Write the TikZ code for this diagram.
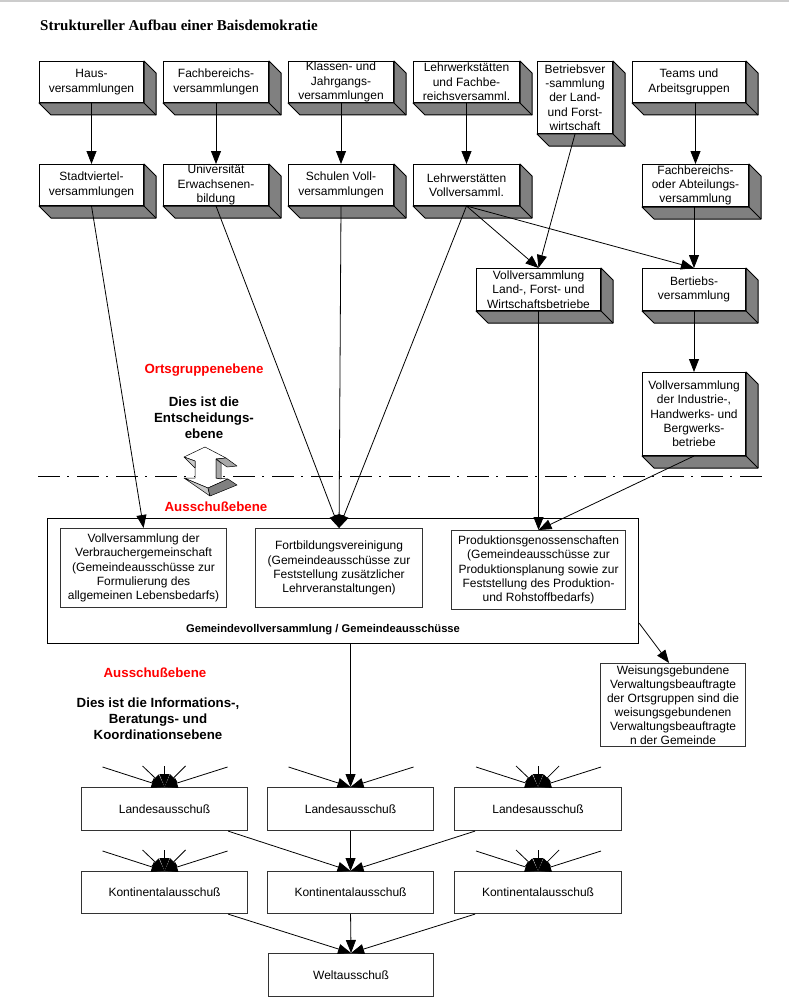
\documentclass[tikz,border=0pt]{standalone}
\usepackage{fontspec}
\setmainfont{Liberation Sans}
\newfontfamily\titlefont{Liberation Serif}
\usetikzlibrary{arrows.meta,calc}
\definecolor{sidegray}{HTML}{808080}
\definecolor{lightgray2}{HTML}{C8C8C8}
\definecolor{midgray2}{HTML}{A8A8A8}
\newcommand\extrude[1]{%
  \filldraw[fill=sidegray, draw=black, line width=1pt, line join=round]
    (#1.north east) -- ($(#1.north east)+(12,12)$) -- ($(#1.south east)+(12,12)$)
    -- ($(#1.south west)+(12,12)$) -- (#1.south west) -- (#1.south east) -- cycle;
  \draw[line width=1pt] (#1.south east) -- ($(#1.south east)+(12,12)$);
}
\newcommand\fanfive[1]{%
  \coordinate (#1-f1) at ($(#1.north)+(-62,-20)$);
  \coordinate (#1-f2) at ($(#1.north)+(-22,-21)$);
  \coordinate (#1-f3) at ($(#1.north)+(0,-21)$);
  \coordinate (#1-f4) at ($(#1.north)+(21,-21)$);
  \coordinate (#1-f5) at ($(#1.north)+(63,-20)$);
  \foreach \k in {1,...,5}{\draw[arr] (#1-f\k) -- (#1.north);}
}
\begin{document}
\begin{tikzpicture}[x=1pt,y=-1pt,
  txt/.style={font=\fontsize{12}{14.3}\selectfont, align=center, text=black},
  box3d/.style={txt, draw=black, line width=1pt, fill=white, inner sep=0pt, anchor=north west},
  pbox/.style={txt, draw=black!80, line width=1.1pt, fill=white, inner sep=0pt, anchor=north west},
  arr/.style={-{Triangle[length=13pt,width=10pt]}, line width=0.8pt},
  lbl/.style={font=\bfseries\fontsize{13.3}{16}\selectfont, align=center, inner sep=0pt},
  redlbl/.style={lbl, text=red},
]
\useasboundingbox (0,0) rectangle (789,1006);
\fill[black!20] (0,0) rectangle (789,1.6);

% title
\node[font=\titlefont\bfseries\fontsize{15}{18}\selectfont, anchor=base west, inner sep=0pt] (title) at (40,31) {Struktureller Aufbau einer Baisdemokratie};

% top row
\node[box3d, minimum width=104pt, minimum height=41pt] (haus) at (39,61) {Haus-\\versammlungen};
\node[box3d, minimum width=105pt, minimum height=41pt] (fachb) at (163,61) {Fachbereichs-\\versammlungen};
\node[box3d, minimum width=105pt, minimum height=41pt] (klassen) at (288,61) {Klassen- und\\Jahrgangs-\\versammlungen};
\node[box3d, minimum width=106pt, minimum height=41pt] (lehrw) at (413,61) {Lehrwerkstätten\\und Fachbe-\\reichsversamml.};
\node[box3d, minimum width=75pt, minimum height=72pt] (betr) at (537,61) {Betriebsver\\-sammlung\\der Land-\\und Forst-\\wirtschaft};
\node[box3d, minimum width=113pt, minimum height=41pt] (teams) at (632,61) {Teams und\\Arbeitsgruppen};

% second row
\node[box3d, minimum width=104pt, minimum height=41pt] (stadt) at (39,164) {Stadtviertel-\\versammlungen};
\node[box3d, minimum width=105pt, minimum height=41pt] (univ) at (163,164) {Universität\\Erwachsenen-\\bildung};
\node[box3d, minimum width=105pt, minimum height=41pt] (schulen) at (288,164) {Schulen Voll-\\versammlungen};
\node[box3d, minimum width=106pt, minimum height=41pt] (lehrvv) at (413,164) {Lehrwerstätten\\Vollversamml.};
\node[box3d, minimum width=106pt, minimum height=42pt] (fachoder) at (642,164) {Fachbereichs-\\oder Abteilungs-\\versammlung};

% third row
\node[box3d, minimum width=124pt, minimum height=42pt] (landvv) at (476,268) {Vollversammlung\\Land-, Forst- und\\Wirtschaftsbetriebe};
\node[box3d, minimum width=103pt, minimum height=42pt] (bertiebs) at (642,268) {Bertiebs-\\versammlung};
\node[box3d, minimum width=103pt, minimum height=83pt] (indvv) at (642,372) {Vollversammlung\\der Industrie-,\\Handwerks- und\\Bergwerks-\\betriebe};

\foreach \n in {haus,fachb,klassen,lehrw,betr,teams,stadt,univ,schulen,lehrvv,fachoder,landvv,bertiebs,indvv}{\extrude{\n}}

% separator line
\draw[line width=0.9pt, dash pattern=on 22pt off 7pt on 2pt off 8pt] (38,476) -- (762,476);

% 3D double arrow icon
\begin{scope}[line width=0.5pt, line join=round]
  \filldraw[fill=white, draw=black] (184,457) -- (205,447) -- (226,458) -- (216,459) -- (216,478) -- (228,479) -- (208,488) -- (184,478) -- (195,478) -- (195,461) -- cycle;
  \filldraw[fill=lightgray2, draw=black] (184,457) -- (195,461) -- (195,468) -- cycle;
  \filldraw[fill=midgray2, draw=black] (216,459) -- (226,458) -- (237,466) -- (227,467) -- cycle;
  \filldraw[fill=midgray2, draw=black] (216,459) -- (221,463) -- (221,479) -- (216,478) -- cycle;
  \filldraw[fill=lightgray2, draw=black] (184,478) -- (208,488) -- (210,496) -- cycle;
  \filldraw[fill=sidegray, draw=black] (208,488) -- (228,479) -- (237,485) -- (210,496) -- cycle;
\end{scope}

% labels
\node[redlbl, anchor=base] (orts) at (204,373) {Ortsgruppenebene};
\node[lbl, anchor=base] (entsch) at (204,438) {Dies ist die\\Entscheidungs-\\ebene};
\node[redlbl, anchor=base] (aus1) at (216,511) {Ausschußebene};
\node[redlbl, anchor=base] (aus2) at (155,677) {Ausschußebene};
\node[lbl, anchor=base] (info) at (158,739) {Dies ist die Informations-,\\Beratungs- und\\Koordinationsebene};

% Gemeinde
\node[draw=black, line width=1.1pt, minimum width=591pt, minimum height=125pt, anchor=north west, inner sep=0pt] (gem) at (47,518) {};
\node[font=\bfseries\fontsize{11.2}{13}\selectfont, anchor=base, inner sep=0pt] (gemlbl) at (323,632) {Gemeindevollversammlung / Gemeindeausschüsse};
\node[pbox, minimum width=166pt, minimum height=79pt] (verbr) at (60,528) {Vollversammlung der\\Verbrauchergemeinschaft\\(Gemeindeausschüsse zur\\Formulierung des\\allgemeinen Lebensbedarfs)};
\node[pbox, minimum width=167pt, minimum height=79pt] (fortb) at (255,528) {Fortbildungsvereinigung\\(Gemeindeausschüsse zur\\Feststellung zusätzlicher\\Lehrveranstaltungen)};
\node[pbox, minimum width=174pt, minimum height=79pt] (prod) at (451,530) {Produktionsgenossenschaften\\(Gemeindeausschüsse zur\\Produktionsplanung sowie zur\\Feststellung des Produktion-\\und Rohstoffbedarfs)};
\node[pbox, minimum width=145pt, minimum height=83pt, font=\fontsize{12}{14.1}\selectfont] (weis) at (600,663) {Weisungsgebundene\\Verwaltungsbeauftragte\\der Ortsgruppen sind die\\weisungsgebundenen\\Verwaltungsbeauftragte\\n der Gemeinde};

% committees
\node[pbox, minimum width=166pt, minimum height=43pt] (landes1) at (81,787) {Landesausschuß};
\node[pbox, minimum width=166pt, minimum height=43pt] (landes2) at (267,787) {Landesausschuß};
\node[pbox, minimum width=167pt, minimum height=43pt] (landes3) at (454,787) {Landesausschuß};
\node[pbox, minimum width=166pt, minimum height=42pt] (kont1) at (81,871) {Kontinentalausschuß};
\node[pbox, minimum width=166pt, minimum height=42pt] (kont2) at (267,871) {Kontinentalausschuß};
\node[pbox, minimum width=167pt, minimum height=42pt] (kont3) at (454,871) {Kontinentalausschuß};
\node[pbox, minimum width=165pt, minimum height=43pt] (welt) at (268,953) {Weltausschuß};

% arrows upper part
\draw[arr] (haus.south) -- (stadt.north);
\draw[arr] (fachb.south) -- (univ.north);
\draw[arr] (klassen.south) -- (schulen.north);
\draw[arr] (lehrw.south) -- (lehrvv.north);
\draw[arr] (teams.south -| fachoder.north) -- (fachoder.north);
\draw[arr] (fachoder.south -| bertiebs.north) -- (bertiebs.north);
\draw[arr] (bertiebs.south) -- (indvv.north);
\draw[arr] (lehrvv.south) -- (landvv.north);
\draw[arr] (lehrvv.south) -- (bertiebs.north);
\draw[arr] (betr.south) -- (landvv.north);
\draw[arr] (stadt.south) -- (verbr.north);
\draw[arr] (univ.south) -- (fortb.north);
\draw[arr] (schulen.south) -- (fortb.north);
\draw[arr] (lehrvv.south) -- (fortb.north);
\draw[arr] (landvv.south) -- (prod.north);
\draw[arr] (indvv.south) -- (prod.north);
\draw[arr] ($(gem.south east)+(0,-21)$) -- ($(weis.north)+(-4,0)$);
\draw[arr] (gem.south -| landes2.north) -- (landes2.north);

% fans
\fanfive{landes1}
\fanfive{landes3}
\fanfive{kont1}
\fanfive{kont3}
\coordinate (landes2-f1) at ($(landes2.north)+(-62,-20)$);
\coordinate (landes2-f5) at ($(landes2.north)+(63,-20)$);
\draw[arr] (landes2-f1) -- (landes2.north);
\draw[arr] (landes2-f5) -- (landes2.north);

% lower connections
\draw[arr] ($(landes1.south east)+(-20,0)$) -- (kont2.north);
\draw[arr] (landes2.south) -- (kont2.north);
\draw[arr] ($(landes3.south west)+(21,0)$) -- (kont2.north);
\draw[arr] ($(kont1.south east)+(-20,0)$) -- (welt.north);
\draw[arr] (kont2.south) -- (welt.north);
\draw[arr] ($(kont3.south west)+(21,0)$) -- (welt.north);
\end{tikzpicture}
\end{document}
